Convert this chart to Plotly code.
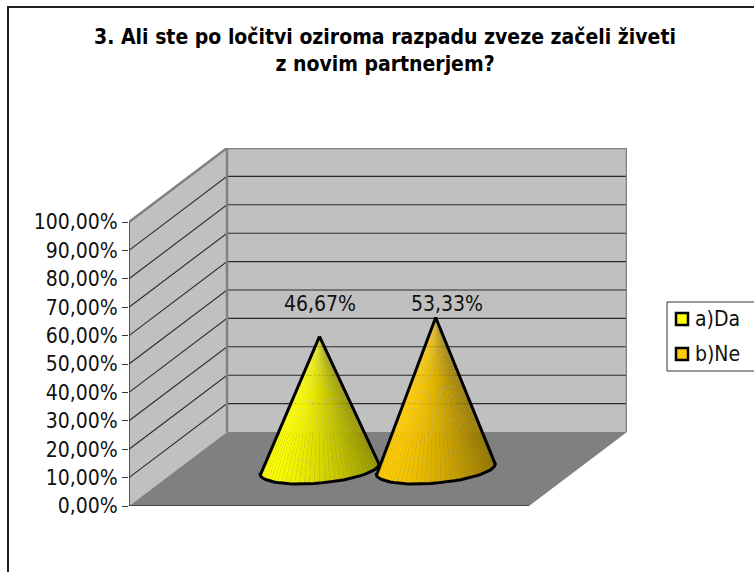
import math
import plotly.graph_objects as go

# Chart values
categories = ["a)Da", "b)Ne"]
values = [46.67, 53.33]
colors = [(255, 255, 0), (255, 204, 0)]
tick_values = [0, 10, 20, 30, 40, 50, 60, 70, 80, 90, 100]
tick_labels = ["0,00%", "10,00%", "20,00%", "30,00%", "40,00%", "50,00%",
               "60,00%", "70,00%", "80,00%", "90,00%", "100,00%"]
title_text = "3. Ali ste po ločitvi oziroma razpadu zveze začeli živeti<br>z novim partnerjem?"

FONT = "DejaVu Sans Condensed, Tahoma, DejaVu Sans"
WIDTH, HEIGHT = 754, 572
# One x unit is one pixel, the y axis is in percent
FRONT_W = 400
DEPTH_X = 98
DEPTH_Y = 26.06
Y_TOP = 100 + DEPTH_Y
CONE_CENTERS = [141.5, 257.7]
CONE_RX = 56
CONE_SKEW = 20
CONE_RY = 5.28
N_FACETS = 36

fig = go.Figure()


def add_poly(xs, ys, fill, line_color=None, line_width=0):
    fig.add_trace(go.Scatter(
        x=xs, y=ys, mode="lines" if line_width else "none", fill="toself",
        fillcolor=fill, line=dict(color=line_color, width=line_width),
        hoverinfo="skip", showlegend=False,
    ))


def add_line(xs, ys, color, width):
    fig.add_trace(go.Scatter(
        x=xs, y=ys, mode="lines", line=dict(color=color, width=width),
        hoverinfo="skip", showlegend=False, cliponaxis=False,
    ))


# Walls and floor
add_poly([0, DEPTH_X, DEPTH_X, 0, 0], [100, Y_TOP, DEPTH_Y, 0, 100], "#c0c0c0")
add_poly([DEPTH_X, DEPTH_X + FRONT_W, DEPTH_X + FRONT_W, DEPTH_X, DEPTH_X],
         [Y_TOP, Y_TOP, DEPTH_Y, DEPTH_Y, Y_TOP], "#c0c0c0")
add_poly([0, FRONT_W, FRONT_W + DEPTH_X, DEPTH_X, 0], [0, 0, DEPTH_Y, DEPTH_Y, 0], "#808080")

# Gridlines
for v in tick_values[1:-1]:
    add_line([0, DEPTH_X, DEPTH_X + FRONT_W], [v, v + DEPTH_Y, v + DEPTH_Y], "#2a2a2a", 1.1)

# Wall borders
add_line([0, DEPTH_X, DEPTH_X + FRONT_W, DEPTH_X + FRONT_W], [100, Y_TOP, Y_TOP, DEPTH_Y], "#808080", 2.5)
add_line([DEPTH_X, DEPTH_X], [Y_TOP, DEPTH_Y], "#808080", 2.5)
add_line([0, 0], [0, 100], "#333333", 1.5)
add_line([0, FRONT_W], [0, 0], "#333333", 1.5)

# Cones
for center, value, rgb in zip(CONE_CENTERS, values, colors):
    cx = center + DEPTH_X / 2
    cy = DEPTH_Y / 2
    apex = (cx, cy + value)
    start = math.pi + math.atan2(CONE_SKEW, CONE_RX)
    end = 2 * math.pi + math.atan2(CONE_SKEW, CONE_RX)
    steps = [start + (end - start) * i / N_FACETS for i in range(N_FACETS + 1)]
    arc_x = [cx + CONE_RX * math.cos(t) + CONE_SKEW * math.sin(t) for t in steps]
    arc_y = [cy + CONE_RY * math.sin(t) for t in steps]
    for i in range(N_FACETS):
        frac = (arc_x[i] - arc_x[0]) / (arc_x[-1] - arc_x[0])
        shade = 1 - 0.42 * frac ** 1.4
        fill = "rgb(%d,%d,%d)" % tuple(round(c * shade) for c in rgb)
        add_poly([apex[0], arc_x[i], arc_x[i + 1], apex[0]],
                 [apex[1], arc_y[i], arc_y[i + 1], apex[1]], fill)
    add_line([apex[0]] + arc_x + [apex[0]], [apex[1]] + arc_y + [apex[1]], "#000000", 3)
    # Round off the outline at the base corners
    fig.add_trace(go.Scatter(
        x=[arc_x[0], arc_x[-1]], y=[arc_y[0], arc_y[-1]], mode="markers",
        marker=dict(color="#000000", size=3), hoverinfo="skip", showlegend=False,
    ))

layout_shapes = [
    # Chart area border, open on the right and at the bottom
    dict(type="line", xref="paper", yref="paper", x0=-122 / 498, x1=625 / 498,
         y0=499 / 358, y1=499 / 358, line=dict(color="#222222", width=2)),
    dict(type="line", xref="paper", yref="paper", x0=-121 / 498, x1=-121 / 498,
         y0=499 / 358, y1=-66 / 358, line=dict(color="#222222", width=2)),
    # Legend box
    dict(type="rect", xref="paper", yref="paper", x0=538 / 498, x1=640 / 498,
         y0=135 / 358, y1=204 / 358, fillcolor="white", line=dict(color="#333333", width=1)),
]

annotations = []
# Data labels
label_dx = [0.5, 11.3]
for center, value, dx in zip(CONE_CENTERS, values, label_dx):
    annotations.append(dict(
        x=center + DEPTH_X / 2 + dx, y=71.1, xref="x", yref="y", showarrow=False,
        text=f"{value:.2f}%".replace(".", ","), font=dict(family=FONT, size=21, color="#111111"),
    ))
# Legend entries
for i, (name, rgb) in enumerate(zip(categories, colors)):
    y_mid = (187 - 35 * i) / 358
    layout_shapes.append(dict(
        type="rect", xref="paper", yref="paper", x0=547 / 498, x1=559 / 498,
        y0=y_mid - 6 / 358, y1=y_mid + 6 / 358,
        fillcolor="rgb(%d,%d,%d)" % rgb, line=dict(color="#000000", width=2.5),
    ))
    annotations.append(dict(
        x=564 / 498, y=y_mid, xref="paper", yref="paper", xanchor="left", showarrow=False,
        text=name, font=dict(family=FONT, size=21, color="#111111"),
    ))

fig.update_layout(
    width=WIDTH,
    height=HEIGHT,
    margin=dict(l=129, r=127, t=148, b=66, autoexpand=False),
    paper_bgcolor="white",
    plot_bgcolor="white",
    showlegend=False,
    title=dict(text=title_text, x=385 / WIDTH, xanchor="center", y=1 - 44 / HEIGHT, yanchor="top",
               font=dict(family=FONT, size=21, color="#000000", weight="bold")),
    shapes=layout_shapes,
    annotations=annotations,
)
fig.update_xaxes(range=[0, FRONT_W + DEPTH_X], showgrid=False, zeroline=False,
                 showline=False, showticklabels=False, ticks="")
fig.update_yaxes(range=[0, Y_TOP], showgrid=False, zeroline=False, showline=False,
                 tickmode="array", tickvals=tick_values, ticktext=tick_labels,
                 ticks="outside", ticklen=6, tickwidth=1, tickcolor="#333333",
                 tickfont=dict(family=FONT, size=21, color="#111111"))

fig.write_html("out.html", config={"displayModeBar": False},
               post_script="document.body.style.margin='0';")
